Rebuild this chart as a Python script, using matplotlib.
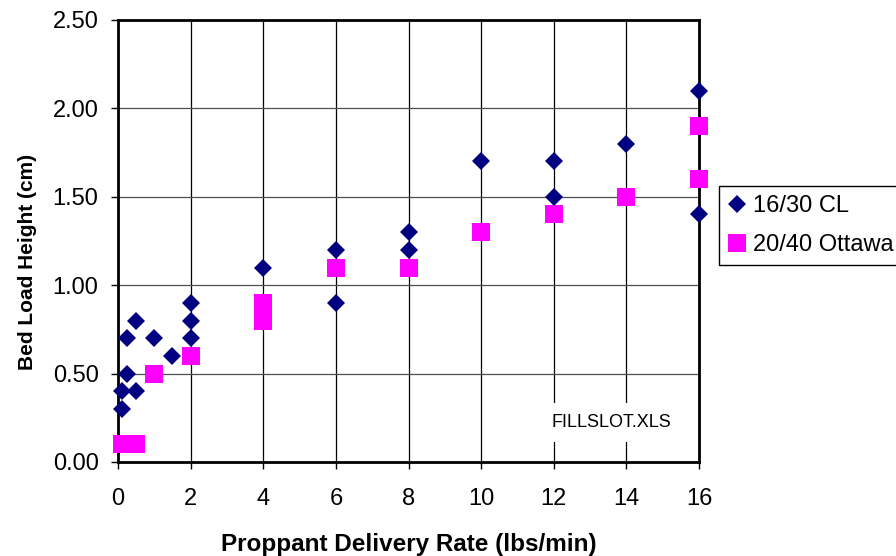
import numpy as np
import matplotlib
matplotlib.use("Agg")
import matplotlib.pyplot as plt

plt.rcParams["font.family"] = ["Liberation Sans", "DejaVu Sans"]

# 16/30 CL bed load heights
cl_rate = [0.1, 0.1, 0.25, 0.25, 0.5, 0.5, 1.0, 1.5, 2, 2, 2, 4, 6, 6, 8, 8,
           10, 12, 12, 14, 16, 16]
cl_height = [0.3, 0.4, 0.5, 0.7, 0.4, 0.8, 0.7, 0.6, 0.7, 0.8, 0.9, 1.1, 0.9, 1.2,
             1.2, 1.3, 1.7, 1.5, 1.7, 1.8, 1.4, 2.1]

# 20/40 Ottawa bed load heights
ot_rate = [0.1, 0.25, 0.5, 1.0, 2, 4, 4, 6, 8, 10, 12, 14, 16, 16]
ot_height = [0.1, 0.1, 0.1, 0.5, 0.6, 0.8, 0.9, 1.1, 1.1, 1.3, 1.4, 1.5, 1.6, 1.9]

x_ticks = np.arange(0, 17, 2)
y_ticks = np.arange(0, 2.51, 0.5)

fs = 17
fig = plt.figure(figsize=(8.96, 5.56), dpi=100)
ax = fig.add_axes([118 / 896, 94 / 556, 581 / 896, 442 / 556])

ax.plot(cl_rate, cl_height, ls="none", marker="D", ms=9.4, mew=0,
        color="#000080", label="16/30 CL", clip_on=False, zorder=4)
ax.plot(ot_rate, ot_height, ls="none", marker="s", ms=12.7, mew=0,
        color="#FF00FF", label="20/40 Ottawa", clip_on=False, zorder=3)

ax.set_xlim(0, 16)
ax.set_ylim(0, 2.5)
ax.set_xticks(x_ticks)
ax.set_yticks(y_ticks)
ax.set_yticklabels([f"{v:.2f}" for v in y_ticks])
ax.tick_params(axis="both", direction="out", length=5, width=1, labelsize=fs)
ax.tick_params(axis="x", pad=14)
ax.tick_params(axis="y", pad=9)

ax.set_axisbelow(True)
ax.grid(axis="x", color="black", lw=0.9)
ax.grid(axis="y", color="#505050", lw=0.9)
for sp in ax.spines.values():
    sp.set_linewidth(2.0)
    sp.set_color("black")

ax.set_xlabel("Proppant Delivery Rate (lbs/min)", fontsize=17.5, fontweight="bold")
ax.set_ylabel("Bed Load Height (cm)", fontsize=15, fontweight="bold")
ax.xaxis.set_label_coords(0.5, -0.16)
ax.yaxis.set_label_coords(-0.139, 0.452)

ax.text(13.58, 0.225, "FILLSLOT.XLS", fontsize=13, ha="center", va="center",
        bbox=dict(facecolor="white", edgecolor="none", pad=8), zorder=2)

# legend runs off the right edge of the figure
fig.legend(loc="upper left", bbox_to_anchor=(719 / 896, 1 - 186 / 556),
           fontsize=fs, frameon=True, fancybox=False, edgecolor="black",
           framealpha=1, borderpad=0.4, labelspacing=0.7, handlelength=0.75,
           handletextpad=0.3, borderaxespad=0)
fig.legends[0].get_frame().set_linewidth(1.0)

fig.savefig("out.png", dpi=100)
